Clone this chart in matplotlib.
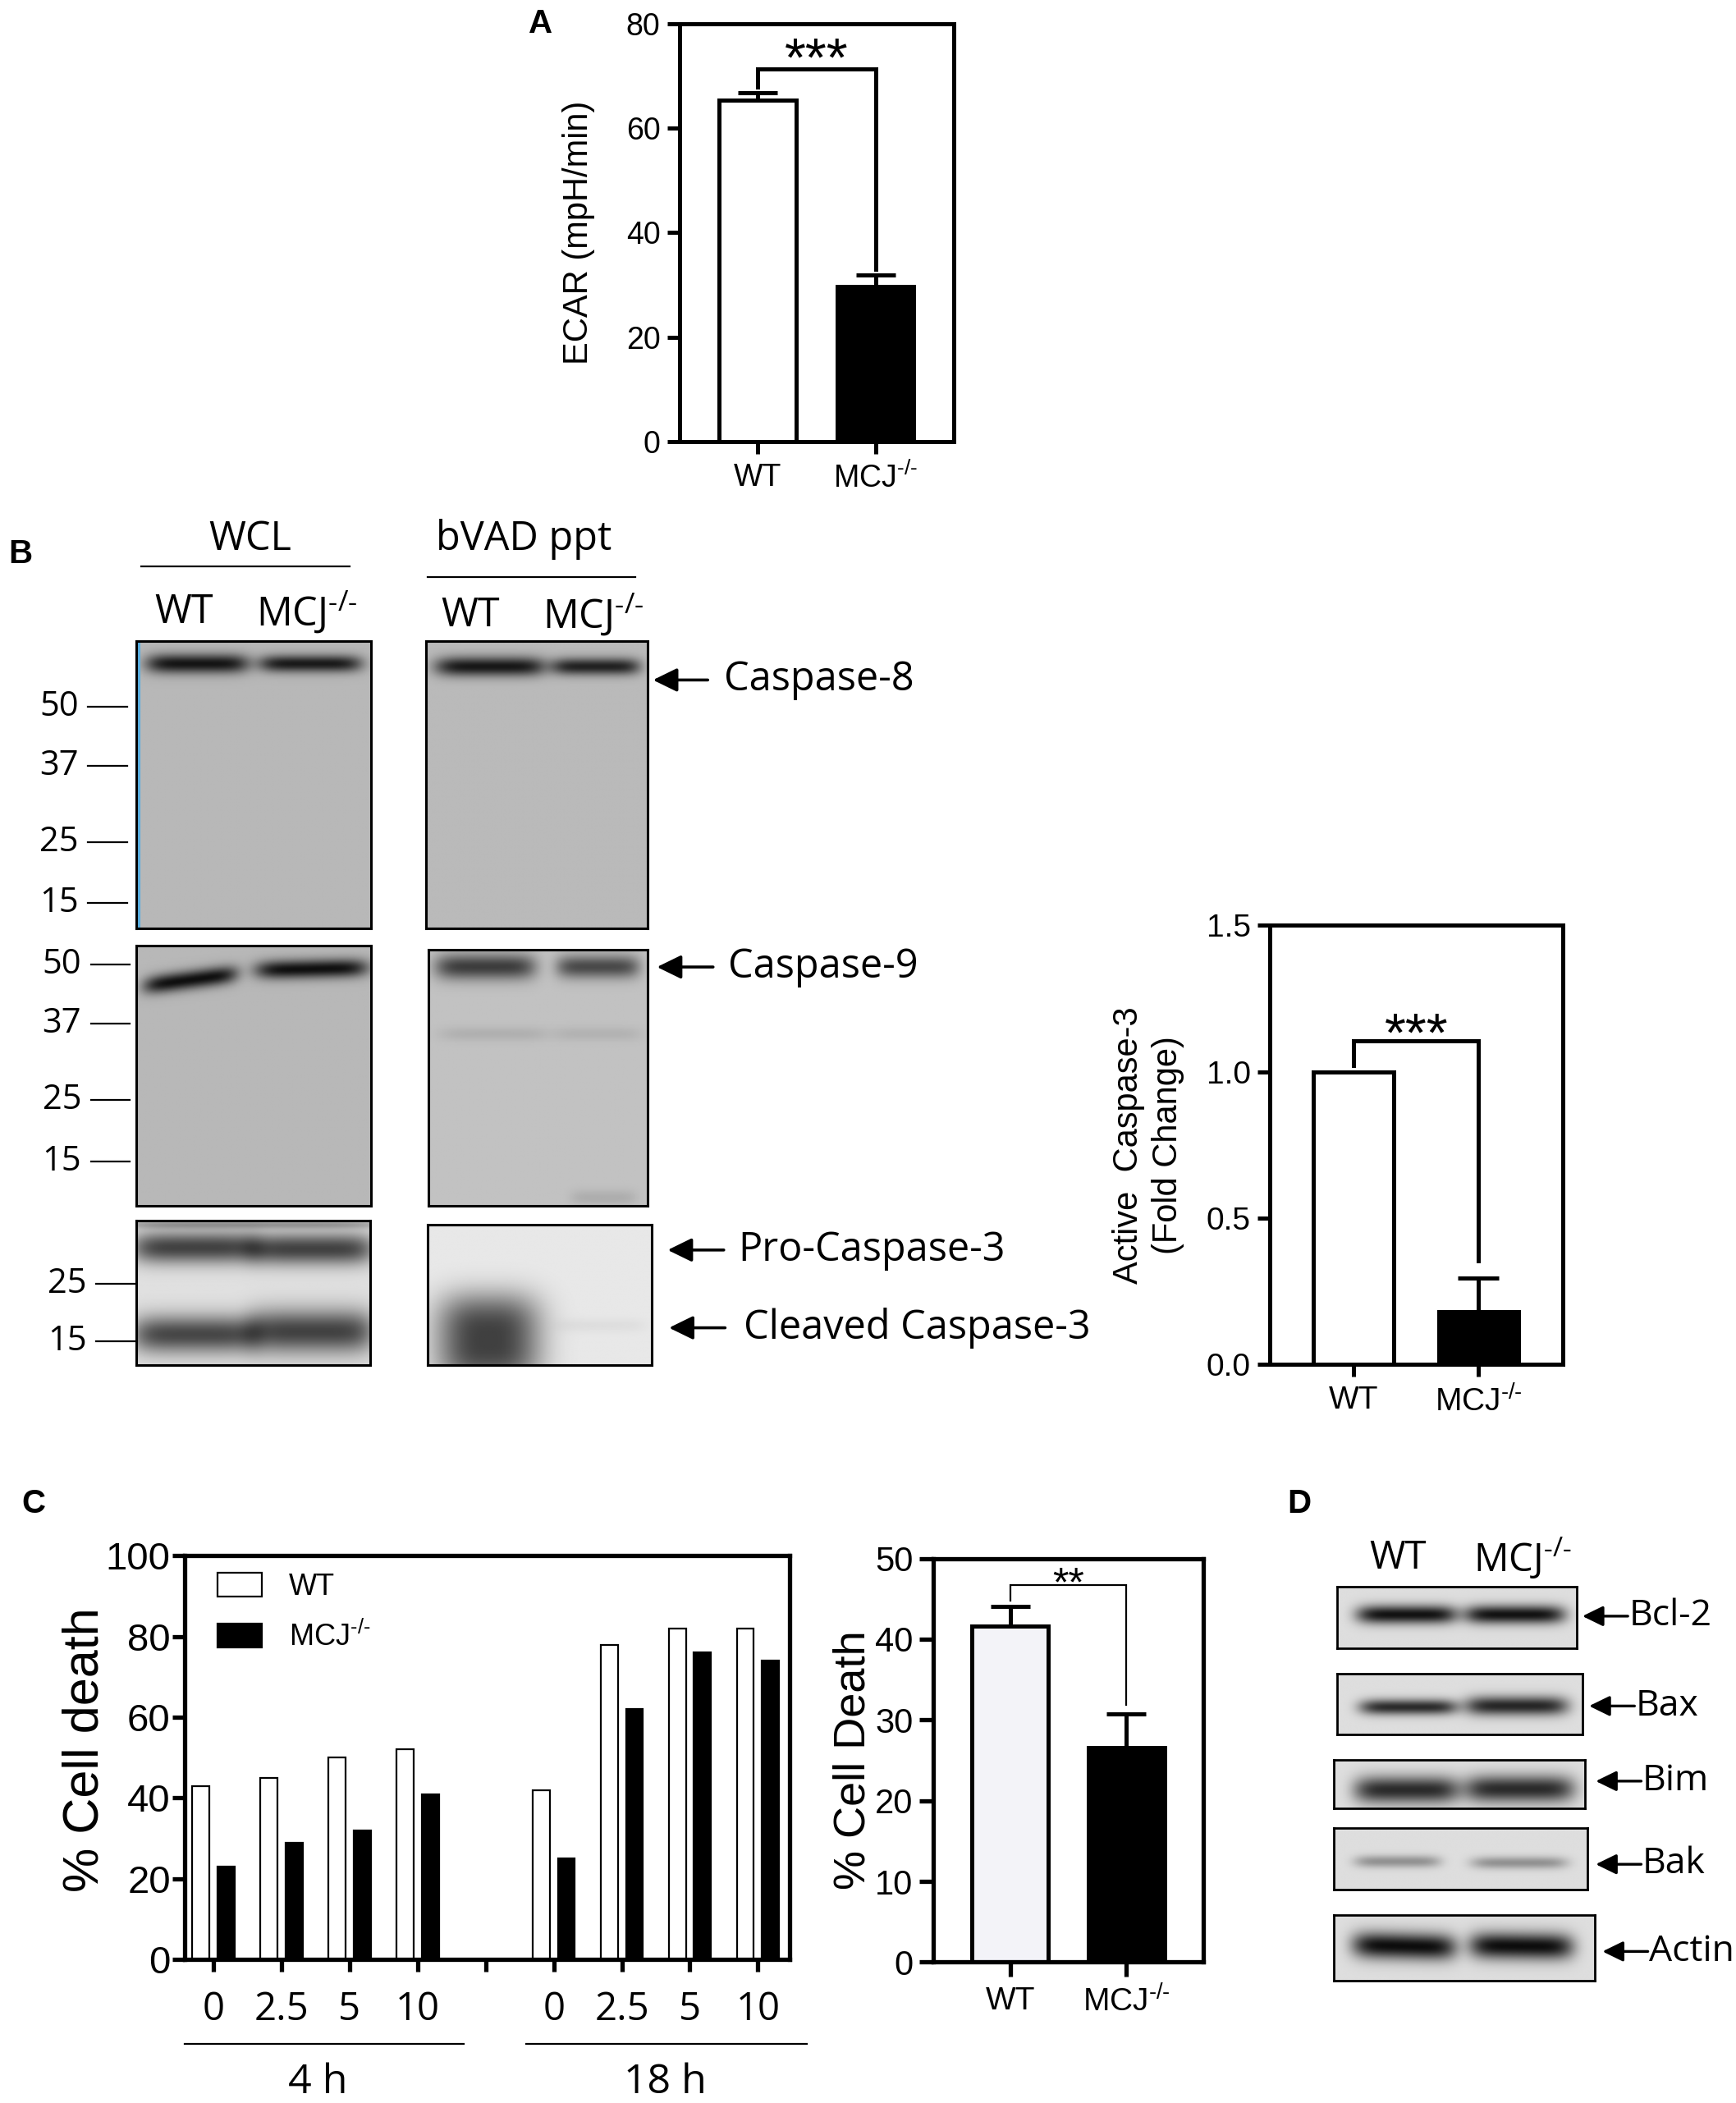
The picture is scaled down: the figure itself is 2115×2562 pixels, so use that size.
import numpy as np
import matplotlib
matplotlib.use("Agg")
import matplotlib.pyplot as plt

plt.rcParams['font.family'] = ['Liberation Sans', 'DejaVu Sans']
plt.rcParams['axes.linewidth'] = 3.6
BLOT_FONT = ['Open Sans', 'DejaVu Sans']

# superscript knockout mark with real hyphens (mathtext turns "-" into a minus)
KO = '$\\mathregular{^{\u2010/\u2010}}$'

# ---- data ----
genotypes = ['WT', 'MCJ' + KO]

ecar_mean = [65.5, 29.7]
ecar_err = [1.3, 2.2]

casp3_mean = [1.0, 0.18]
casp3_err = [0.0, 0.115]

dose_labels = ['0', '2.5', '5', '10']
time_labels = ['4 h', '18 h']
death_wt_4h = [43, 45, 50, 52]
death_mcj_4h = [23, 29, 32, 41]
death_wt_18h = [42, 78, 82, 82]
death_mcj_18h = [25, 62, 76, 74]

death_mean = [41.6, 26.6]
death_err = [2.5, 4.1]

mw_blot_top = ['50', '37', '25', '15']
mw_blot_cleaved = ['25', '15']
bcl_proteins = ['Bcl-2', 'Bax', 'Bim', 'Bak', 'Actin']

# frame used for placing things (reference image scaled to 1300 x 1568)
W, H = 1300.0, 1568.0


def fb(x0, y0, x1, y1):
    return [x0 / W, 1 - y1 / H, (x1 - x0) / W, (y1 - y0) / H]


fig = plt.figure(figsize=(21.15, 25.62), dpi=100)


def style_box(ax, lw=3.6, ticklen=11, fs=25):
    for s in ax.spines.values():
        s.set_linewidth(lw)
    ax.tick_params(axis='both', direction='out', width=lw, length=ticklen,
                   labelsize=fs, pad=6)
    ax.tick_params(axis='x', pad=8)


def sig_bracket(ax, y_left, y_top, y_right, stars, star_y, fs, lw):
    ax.plot([0, 0, 1, 1], [y_left, y_top, y_top, y_right], color='k', lw=lw,
            solid_joinstyle='miter', zorder=3)
    ax.text(0.5, star_y, stars, ha='center', va='baseline', fontsize=fs)


# ---------------- panel A ----------------
axA = fig.add_axes(fb(509, 18, 714, 329))
x2 = np.arange(2)
axA.bar(x2, ecar_mean, width=0.65, color=['white', 'black'], edgecolor='black',
        linewidth=3.6, zorder=2)
axA.errorbar(x2, ecar_mean, yerr=[np.zeros(2), ecar_err], fmt='none', ecolor='k',
             elinewidth=3.6, capsize=17, capthick=3.6, zorder=1)
sig_bracket(axA, 68, 71.4, 33, '***', 70.0, 48, 3.6)
axA.set_xlim(-0.66, 1.66)
axA.set_ylim(0, 80)
axA.set_yticks([0, 20, 40, 60, 80])
axA.set_xticks(x2)
axA.set_xticklabels(genotypes)
style_box(axA, fs=27)
axA.set_ylabel('ECAR (mpH/min)', fontsize=30)
axA.yaxis.set_label_coords(-0.31, 0.5)

# ---------------- panel B chart ----------------
axB = fig.add_axes(fb(951, 690, 1170, 1017))
axB.bar(x2, casp3_mean, width=0.64, color=['white', 'black'], edgecolor='black',
        linewidth=3.6, zorder=2)
axB.errorbar(x2[1:], casp3_mean[1:], yerr=[[0], casp3_err[1:]], fmt='none',
             ecolor='k', elinewidth=3.6, capsize=18, capthick=3.6, zorder=1)
sig_bracket(axB, 1.02, 1.104, 0.352, '***', 1.07, 48, 3.6)
axB.set_xlim(-0.67, 1.67)
axB.set_ylim(0, 1.5)
axB.set_yticks([0, 0.5, 1.0, 1.5])
axB.set_yticklabels(['0.0', '0.5', '1.0', '1.5'])
axB.set_xticks(x2)
axB.set_xticklabels(genotypes)
style_box(axB, fs=28)

# ---------------- panel C left ----------------
axC = fig.add_axes(fb(138, 1160, 591, 1461))
pos_4h = np.arange(4)
pos_18h = np.arange(5, 9)
bw = 0.25
axC.bar(pos_4h - 0.185, death_wt_4h, width=bw, color='white', edgecolor='black',
        linewidth=1.6, label='WT')
axC.bar(pos_4h + 0.185, death_mcj_4h, width=bw, color='black', edgecolor='black',
        linewidth=1.6, label='MCJ' + KO)
axC.bar(pos_18h - 0.185, death_wt_18h, width=bw, color='white', edgecolor='black',
        linewidth=1.6)
axC.bar(pos_18h + 0.185, death_mcj_18h, width=bw, color='black', edgecolor='black',
        linewidth=1.6)
axC.set_xlim(-0.43, 8.46)
axC.set_ylim(0, 100)
axC.set_yticks(range(0, 101, 20))
axC.set_xticks(range(9))
axC.set_xticklabels(dose_labels + [''] + dose_labels, fontfamily=BLOT_FONT)
style_box(axC, lw=3.8, ticklen=11, fs=34)
axC.tick_params(axis='y', pad=1)
axC.tick_params(axis='x', labelsize=34, pad=16)
axC.set_ylabel('% Cell death', fontsize=44)
axC.yaxis.set_label_coords(-0.125, 0.52)
axC.legend(loc='upper left', bbox_to_anchor=(0.055, 0.958), frameon=False,
           fontsize=26, handlelength=1.5, handleheight=0.85, labelspacing=0.7,
           handletextpad=0.9, borderpad=0, borderaxespad=0)

# ---------------- panel C right ----------------
axC2 = fig.add_axes(fb(699, 1162, 901, 1463))
axC2.bar(x2, death_mean, width=0.66, color=['#f3f3f8', 'black'], edgecolor='black',
         linewidth=3.6, zorder=2)
axC2.errorbar(x2, death_mean, yerr=[np.zeros(2), death_err], fmt='none', ecolor='k',
              elinewidth=3.6, capsize=17, capthick=3.6, zorder=1)
sig_bracket(axC2, 44.8, 46.7, 31.9, '**', 45.3, 36, 1.6)
axC2.set_xlim(-0.66, 1.66)
axC2.set_ylim(0, 50)
axC2.set_yticks(range(0, 51, 10))
axC2.set_xticks(x2)
axC2.set_xticklabels(genotypes)
style_box(axC2, lw=3.8, ticklen=12, fs=30)
axC2.tick_params(axis='x', labelsize=28, length=13)
axC2.set_ylabel('% Cell Death', fontsize=39)
axC2.yaxis.set_label_coords(-0.22, 0.5)


# ---------------- blots ----------------
def blot_image(bg, bands, ny=240, nx=320):
    yy, xx = np.mgrid[0:1:ny * 1j, 0:1:nx * 1j]
    img = np.full((ny, nx), bg, dtype=float)
    for xc, yc, hw, hh, depth, tilt, px, py in bands:
        dx = (xx - xc) / hw
        dy = (yy - (yc + tilt * (xx - xc))) / hh
        img -= depth * np.exp(-np.abs(dx) ** px) * np.exp(-np.abs(dy) ** py)
    return np.clip(img, 0, 1)


def add_blot(box, bg, bands, lw=2.2):
    ax = fig.add_axes(fb(*box))
    ax.imshow(blot_image(bg, bands), cmap='gray', vmin=0, vmax=1, aspect='auto',
              interpolation='bilinear', extent=(0, 1, 1, 0))
    ax.set_xticks([])
    ax.set_yticks([])
    for s in ax.spines.values():
        s.set_linewidth(lw)
    return ax


# (x centre, y centre, half width, half height, darkness, tilt, x/y edge sharpness)
b1l = add_blot((102, 478, 278, 692), 0.72,
               [(0.26, 0.077, 0.22, 0.034, 0.64, 0, 6, 2),
                (0.74, 0.077, 0.22, 0.03, 0.62, 0, 6, 2)])
b1l.axvline(0.012, color='#5aaee0', lw=3)
add_blot((319, 478, 485, 692), 0.73,
         [(0.29, 0.087, 0.25, 0.034, 0.64, 0, 6, 2),
          (0.765, 0.087, 0.2, 0.03, 0.6, 0, 6, 2)])
add_blot((102, 705, 278, 899), 0.72,
         [(0.23, 0.13, 0.2, 0.036, 0.66, -0.12, 6, 2),
          (0.745, 0.088, 0.24, 0.036, 0.66, -0.02, 6, 2)])
add_blot((321, 708, 485, 899), 0.76,
         [(0.26, 0.068, 0.23, 0.05, 0.52, 0, 6, 2),
          (0.775, 0.068, 0.19, 0.045, 0.47, 0, 6, 2),
          (0.3, 0.33, 0.25, 0.028, 0.07, 0, 6, 2),
          (0.77, 0.33, 0.2, 0.028, 0.06, 0, 6, 2),
          (0.8, 0.97, 0.15, 0.03, 0.08, 0, 6, 2)])
add_blot((102, 910, 277, 1018), 0.88,
         [(0.5, 0.03, 0.6, 0.03, 0.25, 0, 6, 2),
          (0.25, 0.19, 0.27, 0.11, 0.62, 0, 6, 2),
          (0.75, 0.2, 0.27, 0.11, 0.62, 0, 6, 2),
          (0.25, 0.79, 0.27, 0.13, 0.6, 0, 6, 2),
          (0.75, 0.77, 0.27, 0.15, 0.62, 0, 6, 2)])
add_blot((320, 913, 488, 1018), 0.91,
         [(0.27, 0.82, 0.23, 0.32, 0.66, 0, 3, 3),
          (0.77, 0.72, 0.2, 0.05, 0.04, 0, 6, 2)])

d_boxes = [(1001, 1183, 1181, 1229), (1001, 1248, 1185, 1293),
           (999, 1312, 1187, 1348), (999, 1363, 1189, 1409),
           (999, 1428, 1194, 1477)]
d_bands = [
    [(0.29, 0.46, 0.21, 0.15, 0.8, 0, 6, 2), (0.74, 0.46, 0.21, 0.15, 0.8, 0, 6, 2)],
    [(0.29, 0.55, 0.2, 0.13, 0.7, 0, 6, 2), (0.73, 0.53, 0.21, 0.16, 0.72, 0, 6, 2)],
    [(0.29, 0.62, 0.21, 0.28, 0.7, 0, 6, 2), (0.74, 0.6, 0.22, 0.28, 0.7, 0, 6, 2)],
    [(0.25, 0.55, 0.17, 0.1, 0.3, 0, 6, 2), (0.73, 0.57, 0.19, 0.1, 0.3, 0, 6, 2)],
    [(0.27, 0.48, 0.2, 0.2, 0.82, 0.1, 6, 2), (0.72, 0.48, 0.2, 0.2, 0.82, 0.05, 6, 2)],
]
for box, bands in zip(d_boxes, d_bands):
    add_blot(box, 0.87, bands, lw=2.0)

# ---------------- overlay: labels, arrows, rules ----------------
ov = fig.add_axes([0, 0, 1, 1])
ov.set_xlim(0, W)
ov.set_ylim(H, 0)
ov.axis('off')

for letter, (lx, ly) in zip('ABCD', [(405, 18), (15, 413), (25, 1121), (973, 1121)]):
    ov.text(lx, ly, letter, fontsize=29, fontweight='bold', ha='center', va='center')

bf = dict(fontfamily=BLOT_FONT, va='center')
mcj = 'MCJ' + KO

# panel B headers
ov.text(187, 402, 'WCL', fontsize=35, ha='center', **bf)
ov.plot([106, 262], [422, 422], color='k', lw=1.6)
ov.text(392, 402, 'bVAD ppt', fontsize=35, ha='center', **bf)
ov.plot([320, 476], [430, 430], color='k', lw=1.6)
for cx, lab, yy in [(138, 'WT', 457), (230, mcj, 457), (352, 'WT', 459), (444, mcj, 459)]:
    ov.text(cx, yy, lab, fontsize=35, ha='center', **bf)

# molecular weight markers
for lab, yy in zip(mw_blot_top, [527, 571, 628, 673]):
    ov.plot([66, 95], [yy, yy], color='k', lw=1.6)
    ov.text(59, yy, lab, fontsize=30, ha='right', **bf)
for lab, yy in zip(mw_blot_top, [719, 763, 820, 866]):
    ov.plot([68, 97], [yy, yy], color='k', lw=1.6)
    ov.text(61, yy, lab, fontsize=30, ha='right', **bf)
for lab, yy in zip(mw_blot_cleaved, [957, 1000]):
    ov.plot([72, 102], [yy, yy], color='k', lw=1.6)
    ov.text(65, yy, lab, fontsize=30, ha='right', **bf)

arrow_b = dict(arrowstyle='-|>,head_length=0.45,head_width=0.22', color='k', lw=2.6,
               mutation_scale=40, shrinkA=0, shrinkB=0)
for head, tail, yy, tx, lab in [(489, 530, 507, 542, 'Caspase-8'),
                                (492, 534, 721, 545, 'Caspase-9'),
                                (500, 542, 932, 553, 'Pro-Caspase-3'),
                                (501, 543, 990, 557, 'Cleaved Caspase-3')]:
    ov.annotate('', xy=(head, yy), xytext=(tail, yy), arrowprops=arrow_b)
    ov.text(tx, yy, lab, fontsize=35, ha='left', **bf)

# two-line y label of the caspase-3 chart
ov.text(860, 854, 'Active  Caspase-3\n(Fold Change)', fontsize=30, rotation=90,
        ha='center', va='center', multialignment='center', linespacing=1.25)

# panel C group rules
ov.plot([138, 347], [1524, 1524], color='k', lw=1.6)
ov.plot([394, 604], [1524, 1524], color='k', lw=1.6)
ov.text(238, 1553, time_labels[0], fontsize=36, ha='center', **bf)
ov.text(498, 1553, time_labels[1], fontsize=36, ha='center', **bf)

# panel D
ov.text(1047, 1162, 'WT', fontsize=34, ha='center', **bf)
ov.text(1140, 1162, mcj, fontsize=34, ha='center', **bf)
arrow_d = dict(arrowstyle='-|>,head_length=0.45,head_width=0.22', color='k', lw=2.4,
               mutation_scale=34, shrinkA=0, shrinkB=0)
for lab, head, yy in zip(bcl_proteins, [1185, 1190, 1195, 1195, 1200],
                         [1205, 1272, 1328, 1390, 1455]):
    ov.annotate('', xy=(head, yy), xytext=(head + 34, yy), arrowprops=arrow_d)
    ov.text(head + 35, yy, lab, fontsize=32, ha='left', **bf)

fig.savefig('out.png', dpi=100)
